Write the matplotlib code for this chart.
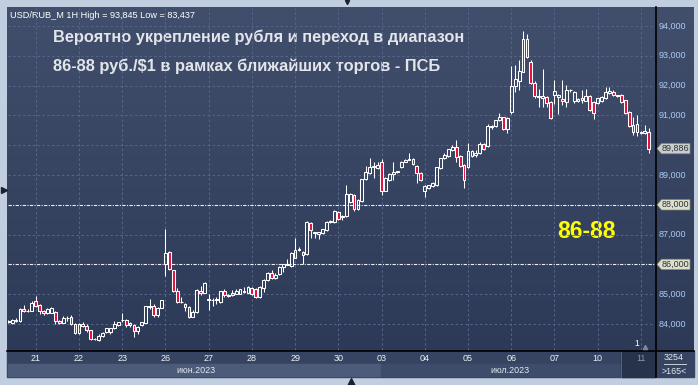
import matplotlib
matplotlib.use("Agg")
import matplotlib.pyplot as plt
import numpy as np
from matplotlib.patches import Rectangle, Polygon
from matplotlib.colors import to_rgb

plt.rcParams['font.family'] = ['Liberation Sans', 'DejaVu Sans']

# ---------------- data ----------------
opens = [84.06, 84.05, 84.11, 84.10, 84.50, 84.44, 84.45, 84.76, 84.63, 84.42, 84.36, 84.38, 84.41, 84.10, 84.04, 84.19,
         84.22, 84.00, 83.70, 83.93, 83.93, 83.79, 83.51, 83.47, 83.60, 83.72, 83.72, 83.86, 83.95, 84.13, 84.14, 83.97,
         83.98, 83.77, 83.95, 84.04, 84.57, 84.60, 84.30, 84.55, 86.00, 86.40, 85.80, 85.10, 84.73, 84.66, 84.56, 84.25,
         84.40, 85.12, 85.05, 84.85, 84.79, 84.79, 84.74, 85.10, 84.93, 84.97, 85.01, 85.01, 85.06, 85.05, 85.20, 85.16,
         84.92, 85.22, 85.48, 85.70, 85.54, 85.67, 85.90, 85.99, 85.95, 86.23, 86.50, 86.40, 86.35, 87.40, 87.08, 87.03,
         87.04, 87.15, 87.42, 87.42, 87.77, 87.58, 87.62, 88.10, 88.33, 87.85, 88.13, 88.86, 89.08, 89.27, 89.22, 89.45,
         88.47, 88.83, 89.03, 89.10, 89.28, 89.45, 89.52, 89.55, 89.30, 89.08, 88.47, 88.55, 88.63, 88.66, 89.22, 89.56,
         89.64, 89.84, 89.95, 89.64, 89.34, 89.28, 89.63, 89.68, 89.73, 90.04, 89.97, 90.60, 90.64, 90.84, 90.94, 90.53,
         91.10, 91.99, 92.15, 92.47, 93.58, 92.80, 92.10, 91.64, 91.58, 91.63, 91.46, 91.68, 91.61, 91.54, 91.46, 91.84,
         91.47, 91.47, 91.52, 91.50, 91.65, 91.46, 91.41, 91.48, 91.58, 91.76, 91.80, 91.68, 91.69, 91.50, 91.12, 90.68,
         90.45, 90.43, 90.40, 90.45]
highs = [84.12, 84.18, 84.19, 84.53, 84.64, 84.49, 84.76, 84.94, 84.66, 84.48, 84.54, 84.56, 84.43, 84.15, 84.28, 84.28,
         84.30, 84.02, 84.02, 84.07, 84.00, 83.80, 83.53, 83.66, 83.72, 83.87, 83.88, 84.10, 84.08, 84.36, 84.16, 84.08,
         84.00, 83.92, 84.08, 84.62, 84.83, 84.68, 84.56, 84.82, 87.20, 86.45, 85.82, 85.20, 84.92, 84.70, 84.60, 84.47,
         85.18, 85.28, 85.40, 85.00, 84.88, 84.90, 85.12, 85.16, 85.00, 85.14, 85.18, 85.18, 85.24, 85.27, 85.24, 85.20,
         85.27, 85.50, 85.74, 85.80, 85.70, 85.95, 86.02, 86.18, 86.42, 86.88, 86.60, 86.45, 87.44, 87.43, 87.10, 87.10,
         87.20, 87.46, 87.50, 87.82, 87.80, 87.66, 88.66, 88.40, 88.36, 88.18, 88.88, 89.30, 89.56, 89.45, 89.45, 89.53,
         88.92, 89.06, 89.45, 89.15, 89.48, 89.53, 89.73, 89.58, 89.32, 89.10, 88.66, 88.68, 88.77, 89.28, 89.58, 89.75,
         89.88, 90.00, 90.17, 89.66, 89.36, 90.07, 89.85, 89.85, 90.10, 90.07, 90.70, 90.68, 90.86, 91.07, 90.96, 90.95,
         92.65, 92.69, 92.86, 93.845, 93.72, 92.86, 92.15, 91.87, 92.55, 91.66, 91.48, 92.19, 91.72, 92.19, 92.02, 91.90,
         91.82, 91.58, 91.85, 91.88, 91.70, 91.50, 91.60, 91.65, 91.96, 91.94, 91.85, 91.70, 91.73, 91.53, 91.14, 90.96,
         91.00, 90.46, 90.68, 90.57]
lows = [84.03, 84.00, 84.08, 84.08, 84.40, 84.39, 84.42, 84.58, 84.32, 84.30, 84.34, 84.36, 84.00, 84.00, 84.02, 84.10,
        83.98, 83.67, 83.68, 83.90, 83.74, 83.46, 83.47, 83.437, 83.58, 83.70, 83.66, 83.84, 83.92, 84.08, 83.90, 83.90,
        83.57, 83.68, 83.93, 84.02, 84.50, 84.25, 84.24, 84.53, 85.62, 85.80, 85.08, 84.70, 84.72, 84.42, 84.20, 84.22,
        84.38, 84.98, 85.03, 84.47, 84.60, 84.66, 84.72, 84.90, 84.90, 84.95, 84.99, 84.99, 85.04, 85.03, 84.98, 84.88,
        84.86, 85.08, 85.45, 85.52, 85.52, 85.64, 85.75, 85.98, 85.92, 86.20, 86.45, 86.00, 86.32, 86.88, 86.88, 86.85,
        87.02, 87.12, 87.40, 87.40, 87.48, 87.50, 87.60, 88.05, 87.80, 87.82, 88.10, 88.84, 89.05, 88.90, 89.20, 88.33,
        88.45, 88.80, 88.83, 89.07, 89.25, 89.42, 89.50, 89.35, 88.74, 88.80, 88.25, 88.52, 88.60, 88.64, 89.20, 89.54,
        89.62, 89.80, 89.45, 89.28, 88.57, 89.25, 89.60, 89.60, 89.70, 89.85, 89.95, 90.56, 90.62, 90.82, 90.50, 90.42,
        91.05, 91.80, 91.85, 92.45, 92.93, 92.05, 91.60, 91.27, 91.27, 91.27, 90.88, 91.38, 91.05, 91.36, 91.27, 91.80,
        91.41, 91.44, 91.41, 91.48, 91.15, 90.89, 91.38, 91.44, 91.55, 91.73, 91.66, 91.62, 91.42, 91.05, 90.60, 90.34,
        90.30, 90.38, 90.38, 89.75]
closes = [84.10, 84.13, 84.15, 84.50, 84.45, 84.42, 84.72, 84.60, 84.43, 84.36, 84.52, 84.55, 84.10, 84.05, 84.20, 84.21,
          84.00, 83.69, 84.00, 84.00, 83.79, 83.50, 83.49, 83.60, 83.70, 83.85, 83.86, 84.00, 84.06, 84.15, 83.96, 84.02,
          83.77, 83.90, 84.06, 84.60, 84.59, 84.30, 84.55, 84.80, 86.37, 85.85, 85.10, 84.75, 84.75, 84.56, 84.25, 84.40,
          85.13, 85.05, 85.37, 84.82, 84.81, 84.85, 85.10, 84.98, 84.97, 85.05, 85.12, 85.16, 85.12, 85.24, 85.01, 84.92,
          85.25, 85.48, 85.70, 85.55, 85.66, 85.92, 86.00, 86.01, 86.39, 86.48, 86.53, 86.30, 87.41, 87.17, 87.06, 87.08,
          87.18, 87.43, 87.44, 87.78, 87.51, 87.62, 88.36, 88.36, 87.85, 88.16, 88.86, 89.11, 89.28, 89.29, 89.34, 88.47,
          88.89, 89.03, 89.11, 89.12, 89.45, 89.50, 89.55, 89.37, 89.08, 88.83, 88.63, 88.66, 88.74, 89.26, 89.56, 89.68,
          89.86, 89.95, 89.61, 89.31, 88.83, 89.80, 89.82, 89.74, 90.03, 89.87, 90.64, 90.64, 90.84, 90.96, 90.53, 90.92,
          91.99, 92.21, 92.50, 93.55, 92.97, 92.10, 91.64, 91.62, 91.65, 91.41, 90.90, 91.83, 91.67, 91.48, 91.85, 91.86,
          91.80, 91.54, 91.57, 91.65, 91.18, 91.09, 91.57, 91.61, 91.80, 91.82, 91.69, 91.65, 91.46, 91.09, 90.64, 90.45,
          90.70, 90.41, 90.49, 89.886]

day_labels = ['21', '22', '23', '26', '27', '28', '29', '30', '03', '04', '05', '06', '07', '10', '11']
first_day_index = 7
bars_per_day = 11
price_ticks = [84, 85, 86, 87, 88, 89, 90, 91, 92, 93, 94]
support_levels = [86, 88]
last_price = 89.886
month_labels = ['июн.2023', 'июл.2023']

header = "USD/RUB_M 1H High = 93,845 Low = 83,437"
title1 = "Вероятно укрепление рубля и переход в диапазон"
title2 = "86-88 руб./$1 в рамках ближайших торгов - ПСБ"
range_label = "86-88"

# ---------------- layout helpers ----------------
W, H = 698, 385
fig = plt.figure(figsize=(W / 100, H / 100), dpi=100)


def frac(x0, y0, x1, y1):
    return [x0 / W, 1 - y1 / H, (x1 - x0) / W, (y1 - y0) / H]


PX_PER_BAR = 3.93
X0_PX = 35.7            # pixel of first bar of day 21
PX_PER_RUB = 29.8
Y94_PX = 26.0


def idx_from_px(px):
    return first_day_index + (px - X0_PX) / PX_PER_BAR


def price_from_px(py):
    return 94 - (py - Y94_PX) / PX_PER_RUB


# background (pixel coordinates)
bg = fig.add_axes([0, 0, 1, 1])
bg.set_xlim(0, W)
bg.set_ylim(H, 0)
bg.axis('off')
bg.add_patch(Rectangle((0, 0), W, H, color='#c0cee0', zorder=0))

c_top = np.array(to_rgb('#414f6d'))
c_bot = np.array(to_rgb('#2c3a58'))
t = np.linspace(0, 1, 256)[:, None, None]
grad = c_top * (1 - t) + c_bot * t
bg.imshow(grad, extent=(7, 694, 351, 7), aspect='auto', zorder=1, interpolation='bilinear')

# date strip
bg.add_patch(Rectangle((7, 351), 687, 26, color='#364461', zorder=2))
bg.add_patch(Rectangle((8, 364), 373, 12, color='#4b5b79', zorder=2))
bg.add_patch(Rectangle((381, 364), 240, 12, color='#3d4c6a', zorder=2))
bg.add_patch(Rectangle((621, 351), 34, 26, color='#27324b', zorder=2))
bg.plot([620.5, 620.5], [351, 377], color='#56647e', lw=0.7, zorder=3)
bg.plot([7, 694], [350.5, 350.5], color='black', lw=1.2, zorder=4)
bg.plot([655.5, 655.5], [7, 377], color='black', lw=1.2, zorder=4)

bg.text(196, 370.5, month_labels[0], color='#e4e9f2', fontsize=6.4, ha='center', va='center', zorder=5)
bg.text(510, 370.5, month_labels[1], color='#e4e9f2', fontsize=6.4, ha='center', va='center', zorder=5)

bg.text(674, 357.5, '3254', color='#e4e9f2', fontsize=6.4, ha='center', va='center', zorder=5)
bg.plot([664, 686], [364, 364], color='#c8d0dc', lw=0.7, zorder=5)
bg.text(674, 371, '>165<', color='#e4e9f2', fontsize=6.4, ha='center', va='center', zorder=5)

# small markers on border
bg.plot(3.5, 190, marker='>', color='#1c2030', ms=4.5, zorder=5)
bg.plot(351, 381.5, marker='^', color='#1c2030', ms=5.5, zorder=5)
bg.plot(347, 2, marker='v', color='#1c2030', ms=3, zorder=5)

# texts
bg.text(10.5, 15, header, color='white', fontsize=6.6, ha='left', va='center', zorder=6)
bg.text(53, 37, title1, color='#e2e5ea', fontsize=11.8, fontweight='bold', ha='left', va='center', zorder=6)
bg.text(53, 66, title2, color='#e2e5ea', fontsize=11.8, fontweight='bold', ha='left', va='center', zorder=6)
bg.text(586, 232, range_label, color='#ffff00', fontsize=16.5, fontweight='bold', ha='center', va='center', zorder=6)
bg.text(637, 344, '1', color='white', fontsize=6.2, ha='center', va='center', zorder=6)
bg.plot(645, 346.5, marker='^', color='#7d889e', ms=3, zorder=6)

# ---------------- main price axes ----------------
ax = fig.add_axes(frac(8, 8, 655, 350))
ax.set_facecolor('none')
for s in ax.spines.values():
    s.set_visible(False)
ax.set_xticks([])
ax.set_yticks([])
ax.set_xlim(idx_from_px(8), idx_from_px(655))
ax.set_ylim(price_from_px(350), price_from_px(8))

n = len(closes)
xs = np.arange(n)
day_starts = [first_day_index + k * bars_per_day for k in range(len(day_labels))]

grid_col = '#56668a'
for p in price_ticks:
    if p in support_levels:
        continue
    ax.axhline(p, color=grid_col, lw=0.7, dashes=(2.5, 2.5), zorder=1)
for d in day_starts:
    ax.axvline(d, color=grid_col, lw=0.7, dashes=(2.5, 2.5), zorder=1)
for p in support_levels:
    ax.axhline(p, color='#eef0f5', lw=0.8, linestyle=(0, (3, 1.2, 1, 1.2)), zorder=2)

o = np.array(opens)
c = np.array(closes)
hi = np.array(highs)
lo = np.array(lows)
top = np.maximum(o, c)
bot = np.minimum(o, c)
height = np.maximum(top - bot, 0.02)
up = c >= o

ax.vlines(xs, lo, bot, color='white', lw=0.75, zorder=3)
ax.vlines(xs, top, hi, color='white', lw=0.75, zorder=3)
ax.bar(xs[up], height[up], bottom=bot[up], width=0.72, facecolor='none',
       edgecolor='white', linewidth=0.75, zorder=4)
ax.bar(xs[~up], height[~up], bottom=bot[~up], width=0.72, facecolor='#e2103c',
       edgecolor='white', linewidth=0.75, zorder=4)

# ---------------- price scale ----------------
axp = fig.add_axes(frac(655, 8, 698, 350), sharey=ax)
axp.set_facecolor('none')
axp.axis('off')
axp.set_xlim(655, 698)
for p in price_ticks:
    if p in support_levels or p == 90:
        continue
    axp.text(658.5, p, f"{p},000", color='#a9cbf3', fontsize=6.5, ha='left', va='center')

half = 5.2 / PX_PER_RUB


def tag(price, text, face):
    poly = Polygon([[657, price], [661.5, price + half], [690, price + half],
                    [690, price - half], [661.5, price - half]],
                   closed=True, facecolor=face, edgecolor='#7f8475', lw=0.5, zorder=5)
    axp.add_patch(poly)
    axp.text(662, price, text, color='#2b3244', fontsize=6.5, ha='left', va='center', zorder=6)


for p in support_levels:
    tag(p, f"{p},000", '#dfe0c8')
tag(last_price, f"{last_price:.3f}".replace('.', ','), '#cbcfcb')

# ---------------- date scale ----------------
axd = fig.add_axes(frac(8, 350, 655, 377), sharex=ax)
axd.set_facecolor('none')
axd.axis('off')
axd.set_ylim(27, 0)
for d, lab in zip(day_starts, day_labels):
    col = '#8c97ab' if lab == day_labels[-1] else '#eef2f8'
    axd.text(d, 8.5, lab, color=col, fontsize=6.5, ha='center', va='center')

fig.savefig('out.png', dpi=100)
